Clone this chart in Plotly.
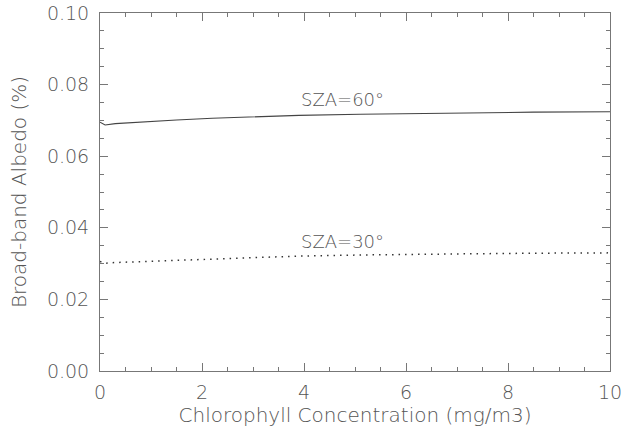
import plotly.graph_objects as go

# Chlorophyll concentration (mg/m3)
chl_60 = [0.0, 0.1, 0.3, 0.7, 1.5, 2.2, 3.0, 3.9, 5.1, 6.0, 7.0, 8.5, 10.0]
alb_60 = [0.0695, 0.0687, 0.0691, 0.0695, 0.0701, 0.0706, 0.0710, 0.0714, 0.0717, 0.0719, 0.0721, 0.0723, 0.0724]

chl_30 = [0.0, 0.1, 0.3, 0.7, 1.5, 2.2, 3.0, 3.9, 5.1, 6.0, 7.0, 8.5, 10.0]
alb_30 = [0.0306, 0.0301, 0.0303, 0.0305, 0.0310, 0.0314, 0.0318, 0.0321, 0.0324, 0.0326, 0.0327, 0.0329, 0.0330]

labels = ["SZA=60°", "SZA=30°"]
label_x = [4.75, 4.75]
label_y = [0.0757, 0.0363]

x_ticks = [0, 2, 4, 6, 8, 10]
y_ticks = [0.00, 0.02, 0.04, 0.06, 0.08, 0.10]

TXT = "#555555"
AX = "#777777"
FONT = "DejaVu Sans"

fig = go.Figure()
fig.add_trace(go.Scatter(x=chl_60, y=alb_60, mode="lines",
                         line=dict(color="#444444", width=1.1),
                         showlegend=False))
fig.add_trace(go.Scatter(x=chl_30, y=alb_30, mode="lines",
                         line=dict(color="#333333", width=1.5, dash="1.5px,5px"),
                         showlegend=False))

for t, xx, yy in zip(labels, label_x, label_y):
    fig.add_annotation(x=xx, y=yy, text=t, showarrow=False,
                       font=dict(family=FONT, size=18, color=TXT, weight=200),
                       xanchor="center", yanchor="middle")

axis_common = dict(showgrid=False, zeroline=False, showline=True,
                   linecolor=AX, linewidth=1, mirror="allticks",
                   ticks="inside", tickcolor=AX, ticklen=8, tickwidth=1,
                   automargin=False, ticklabeloverflow="allow",
                   tickfont=dict(family=FONT, size=19, color=TXT, weight=200))

fig.update_xaxes(range=[0, 10], tickvals=x_ticks,
                 ticktext=[str(v) for v in x_ticks],
                 minor=dict(ticks="inside", dtick=0.5, ticklen=4, tickcolor=AX, tickwidth=1),
                 title=dict(text="Chlorophyll Concentration (mg/m3)",
                            font=dict(family=FONT, size=20, color=TXT, weight=200),
                            standoff=6),
                 ticklabelstandoff=4,
                 **axis_common)
fig.update_yaxes(range=[0, 0.1], tickvals=y_ticks,
                 ticktext=[f"{v:.2f}" for v in y_ticks],
                 minor=dict(ticks="inside", dtick=0.005, ticklen=4, tickcolor=AX, tickwidth=1),
                 title=dict(text="Broad-band Albedo (%)",
                            font=dict(family=FONT, size=20, color=TXT, weight=200),
                            standoff=14),
                 ticklabelstandoff=6,
                 **axis_common)

fig.update_layout(width=622, height=429,
                  margin=dict(l=100, r=12, t=13, b=58),
                  paper_bgcolor="white", plot_bgcolor="white")

fig.write_html("out.html")
